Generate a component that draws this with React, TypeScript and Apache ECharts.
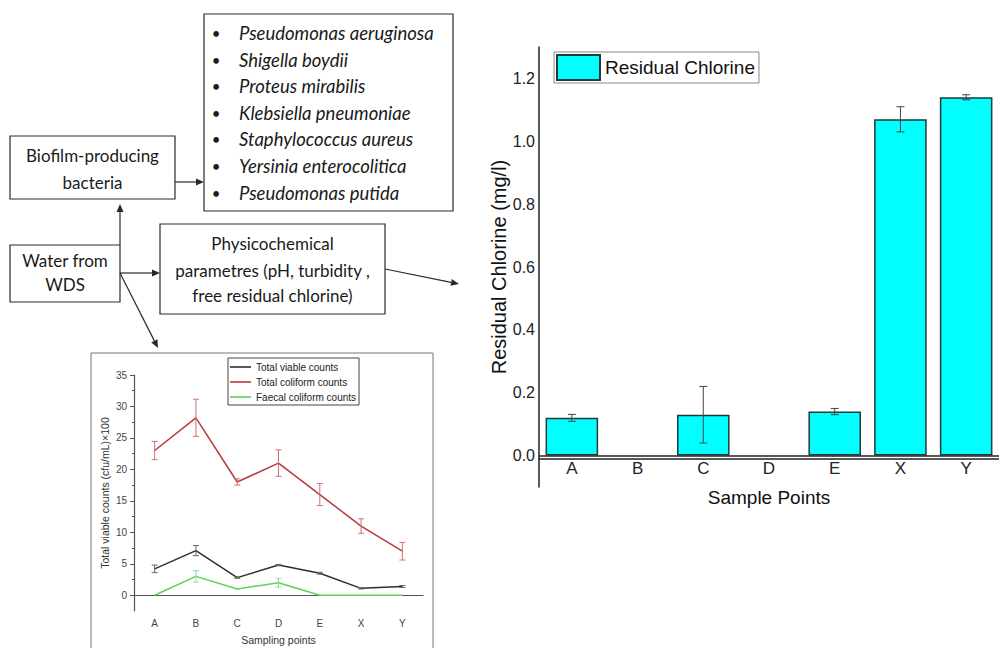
import React, { useEffect, useRef } from "react";
import * as echarts from "echarts";

// ---------- data ----------
const categories = ["A", "B", "C", "D", "E", "X", "Y"];

const viableCounts = [4.2, 7.1, 2.8, 4.8, 3.5, 1.1, 1.4];
const viableErr = [0.6, 0.8, 0.1, 0.1, 0.15, 0.1, 0.15];
const coliformCounts = [23.0, 28.2, 18.0, 21.0, 16.0, 11.0, 7.0];
const coliformErr = [1.45, 2.95, 0.5, 2.1, 1.75, 1.15, 1.4];
const faecalCounts = [0, 3.0, 1.0, 2.0, 0, 0, 0];
const faecalErr = [0, 0.9, 0, 0.7, 0, 0, 0];

const countTicks = [0, 5, 10, 15, 20, 25, 30, 35];
const countMinorTicks = [2.5, 7.5, 12.5, 17.5, 22.5, 27.5, 32.5];

const chlorine = [0.12, 0, 0.13, 0, 0.14, 1.07, 1.14];
const chlorineErr = [0.011, 0, 0.09, 0, 0.01, 0.04, 0.008];
const chlorineTicks = [0, 0.2, 0.4, 0.6, 0.8, 1.0, 1.2];

const bacteria = [
  "Pseudomonas aeruginosa",
  "Shigella boydii",
  "Proteus mirabilis",
  "Klebsiella pneumoniae",
  "Staphylococcus aureus",
  "Yersinia enterocolitica",
  "Pseudomonas putida",
];

// ---------- helpers ----------
const errData = (vals: number[], errs: number[]) =>
  vals.map((v, i) => [i, v, errs[i]]);

const errRender = (capW: number, lw: number) => (params: any, api: any) => {
  const x = api.value(0);
  const v = api.value(1);
  const e = api.value(2);
  if (!e || e <= 0) return null;
  const top = api.coord([x, v + e]);
  const bot = api.coord([x, v - e]);
  const style = { stroke: api.visual("color"), lineWidth: lw };
  return {
    type: "group",
    children: [
      { type: "line", shape: { x1: top[0], y1: top[1], x2: bot[0], y2: bot[1] }, style },
      { type: "line", shape: { x1: top[0] - capW / 2, y1: top[1], x2: top[0] + capW / 2, y2: top[1] }, style },
      { type: "line", shape: { x1: bot[0] - capW / 2, y1: bot[1], x2: bot[0] + capW / 2, y2: bot[1] }, style },
    ],
  };
};

const FLOW_FONT = "Lato, 'Open Sans', sans-serif";
const CHART_FONT = "'Liberation Sans', Arial, sans-serif";
const INK = "#2a2a2a";

function arrow(x1: number, y1: number, x2: number, y2: number, head = 8, halfW = 3.5) {
  const dx = x2 - x1;
  const dy = y2 - y1;
  const len = Math.sqrt(dx * dx + dy * dy);
  const ux = dx / len;
  const uy = dy / len;
  const bx = x2 - ux * head;
  const by = y2 - uy * head;
  return [
    { type: "line", shape: { x1, y1, x2: bx, y2: by }, style: { stroke: INK, lineWidth: 1.2 } },
    {
      type: "polygon",
      shape: {
        points: [
          [x2, y2],
          [bx - uy * halfW, by + ux * halfW],
          [bx + uy * halfW, by - ux * halfW],
        ],
      },
      style: { fill: INK },
    },
  ];
}

function box(x: number, y: number, w: number, h: number) {
  return {
    type: "rect",
    shape: { x, y, width: w, height: h },
    style: { fill: "#fff", stroke: INK, lineWidth: 1.2 },
  };
}

function txt(t: string, x: number, y: number, size: number, align = "center", italic = false) {
  return {
    type: "text",
    x,
    y,
    style: {
      text: t,
      fill: "#1a1a1a",
      fontSize: size,
      fontFamily: FLOW_FONT,
      fontStyle: italic ? "italic" : "normal",
      align,
      verticalAlign: "middle",
    },
  };
}

export default function App() {
  const ref = useRef<HTMLDivElement>(null);

  useEffect(() => {
    if (!ref.current) return;
    const chart = echarts.init(ref.current, null, { renderer: "svg" });

    const bulletRows = [33, 60, 86, 113, 139, 166, 193];
    const graphics: any[] = [
      // inset frame
      {
        type: "rect",
        shape: { x: 91, y: 353, width: 342, height: 320 },
        style: { fill: "none", stroke: "#777", lineWidth: 1 },
        z: 0,
      },
      box(204, 14, 249, 197),
      box(10, 136, 165, 63),
      box(10, 245, 110, 57),
      box(160, 224, 225, 90),
      txt("Biofilm-producing", 92.5, 155, 17),
      txt("bacteria", 92.5, 182, 17),
      txt("Water from", 65, 260, 17),
      txt("WDS", 65, 284, 17),
      txt("Physicochemical", 272.5, 243, 17),
      txt("parametres (pH, turbidity ,", 272.5, 270, 17),
      txt("free residual chlorine)", 272.5, 295, 17),
      ...arrow(175, 182, 204, 182),
      ...arrow(120, 245, 120, 204),
      ...arrow(120, 273, 160, 273),
      ...arrow(120, 273, 158, 348),
      ...arrow(385, 269, 459, 284),
    ];
    bacteria.forEach((b, i) => {
      graphics.push(txt("•", 216, bulletRows[i], 15, "center"));
      graphics.push(txt(b, 239, bulletRows[i], 18.5, "left", true));
    });

    const axisGray = "#555";
    const lineAxisLabel = { fontSize: 10, color: "#444", fontFamily: CHART_FONT };

    const option: any = {
      animation: false,
      backgroundColor: "#fff",
      textStyle: { fontFamily: CHART_FONT },
      graphic: { elements: graphics },
      legend: [
        {
          data: ["Total viable counts", "Total coliform counts", "Faecal coliform counts"],
          orient: "vertical",
          left: 228,
          top: 358,
          icon: "rect",
          itemWidth: 21,
          itemHeight: 1.6,
          itemGap: 5,
          padding: [4, 3, 3, 2],
          borderColor: "#444",
          borderWidth: 1,
          textStyle: { fontSize: 10, color: "#222", fontFamily: CHART_FONT },
          selectedMode: false,
        },
        {
          data: ["Residual Chlorine"],
          left: 554,
          top: 52,
          icon: "rect",
          itemWidth: 43,
          itemHeight: 25,
          padding: [2, 4, 2, 2],
          borderColor: "#888",
          borderWidth: 1,
          textStyle: { fontSize: 19, color: "#111", fontFamily: CHART_FONT },
          selectedMode: false,
        },
      ],
      grid: [
        { left: 134, top: 375, width: 289, height: 236, containLabel: false },
        { left: 539, top: 47, width: 467, height: 440, containLabel: false },
      ],
      xAxis: [
        {
          gridIndex: 0,
          type: "category",
          data: categories,
          position: "bottom",
          axisLine: { lineStyle: { color: axisGray, width: 1.2 } },
          axisTick: { alignWithLabel: true, length: 4, lineStyle: { color: axisGray } },
          axisLabel: { ...lineAxisLabel, margin: 7 },
          name: "Sampling points",
          nameLocation: "middle",
          nameGap: 23,
          nameTextStyle: { fontSize: 10.5, color: "#333", fontFamily: CHART_FONT },
        },
        {
          gridIndex: 0,
          type: "category",
          data: categories,
          position: "bottom",
          axisLine: { show: false },
          axisTick: { alignWithLabel: false, length: 2, lineStyle: { color: axisGray } },
          axisLabel: { show: false },
        },
        {
          gridIndex: 1,
          type: "category",
          data: categories,
          position: "bottom",
          offset: -28,
          axisLine: { onZero: false, lineStyle: { color: "#222", width: 1.5 } },
          axisTick: { show: false },
          axisLabel: { fontSize: 17, color: "#222", margin: 1, fontFamily: CHART_FONT },
          name: "Sample Points",
          nameLocation: "middle",
          nameGap: 29,
          nameTextStyle: { fontSize: 19, color: "#111", fontFamily: CHART_FONT },
        },
      ],
      yAxis: [
        {
          gridIndex: 0,
          type: "value",
          position: "left",
          min: -2.5,
          max: 35,
          splitLine: { show: false },
          axisLine: { show: true, lineStyle: { color: axisGray, width: 1.2 } },
          axisTick: { show: true, length: 4, customValues: countTicks, lineStyle: { color: axisGray } },
          axisLabel: { ...lineAxisLabel, margin: 7, customValues: countTicks },
          name: "Total viable counts (cfu/mL)×100",
          nameLocation: "middle",
          nameGap: 24,
          nameRotate: 90,
          nameTextStyle: { fontSize: 10.5, color: "#333", fontFamily: CHART_FONT },
        },
        {
          gridIndex: 0,
          type: "value",
          position: "left",
          min: -2.5,
          max: 35,
          splitLine: { show: false },
          axisLine: { show: false },
          axisTick: { show: true, length: 2, customValues: countMinorTicks, lineStyle: { color: axisGray } },
          axisLabel: { show: false },
        },
        {
          gridIndex: 1,
          type: "value",
          position: "left",
          min: -0.1,
          max: 1.3,
          splitLine: { show: false },
          axisLine: { show: true, lineStyle: { color: "#222", width: 1.5 } },
          axisTick: { show: false },
          axisLabel: {
            fontSize: 16,
            color: "#222",
            margin: 4,
            customValues: chlorineTicks,
            formatter: (v: number) => v.toFixed(1),
            fontFamily: CHART_FONT,
          },
          name: "Residual Chlorine (mg/l)",
          nameLocation: "middle",
          nameGap: 28,
          nameRotate: 90,
          nameTextStyle: { fontSize: 20, color: "#111", fontFamily: CHART_FONT },
        },
      ],
      series: [
        {
          name: "Total viable counts",
          type: "line",
          xAxisIndex: 0,
          yAxisIndex: 0,
          data: viableCounts,
          symbol: "none",
          lineStyle: { color: "#2d2d2d", width: 1.5 },
          itemStyle: { color: "#2d2d2d" },
          z: 3,
        },
        {
          name: "Total coliform counts",
          type: "line",
          xAxisIndex: 0,
          yAxisIndex: 0,
          data: coliformCounts,
          symbol: "none",
          lineStyle: { color: "#b8393c", width: 1.5 },
          itemStyle: { color: "#b8393c" },
          z: 3,
        },
        {
          name: "Faecal coliform counts",
          type: "line",
          xAxisIndex: 0,
          yAxisIndex: 0,
          data: faecalCounts,
          symbol: "none",
          lineStyle: { color: "#5cd25c", width: 1.5 },
          itemStyle: { color: "#5cd25c" },
          z: 3,
        },
        {
          name: "viable-err",
          type: "custom",
          xAxisIndex: 0,
          yAxisIndex: 0,
          data: errData(viableCounts, viableErr),
          encode: { x: 0, y: 1 },
          renderItem: errRender(6, 1),
          itemStyle: { color: "#666" },
          z: 4,
        },
        {
          name: "coliform-err",
          type: "custom",
          xAxisIndex: 0,
          yAxisIndex: 0,
          data: errData(coliformCounts, coliformErr),
          encode: { x: 0, y: 1 },
          renderItem: errRender(6, 1),
          itemStyle: { color: "#d07070" },
          z: 4,
        },
        {
          name: "faecal-err",
          type: "custom",
          xAxisIndex: 0,
          yAxisIndex: 0,
          data: errData(faecalCounts, faecalErr),
          encode: { x: 0, y: 1 },
          renderItem: errRender(6, 1),
          itemStyle: { color: "#8ede8e" },
          z: 4,
        },
        {
          name: "Residual Chlorine",
          type: "bar",
          xAxisIndex: 2,
          yAxisIndex: 2,
          data: chlorine.map((v) => (v === 0 ? "-" : v)),
          barCategoryGap: "20%",
          itemStyle: { color: "#00ffff", borderColor: "#1e3a3a", borderWidth: 1.5 },
          markLine: {
            silent: true,
            symbol: "none",
            label: { show: false },
            lineStyle: { color: "#222", width: 1.5, type: "solid" },
            data: [{ yAxis: 0 }],
          },
          z: 2,
        },
        {
          name: "chlorine-err",
          type: "custom",
          xAxisIndex: 2,
          yAxisIndex: 2,
          data: errData(chlorine, chlorineErr),
          encode: { x: 0, y: 1 },
          renderItem: errRender(8, 1),
          itemStyle: { color: "#444" },
          z: 4,
        },
      ],
    };

    chart.setOption(option);
    return () => chart.dispose();
  }, []);

  return (
    <div
      ref={ref}
      style={{ position: "absolute", left: 0, top: 0, width: 999, height: 648, background: "#fff" }}
    />
  );
}
